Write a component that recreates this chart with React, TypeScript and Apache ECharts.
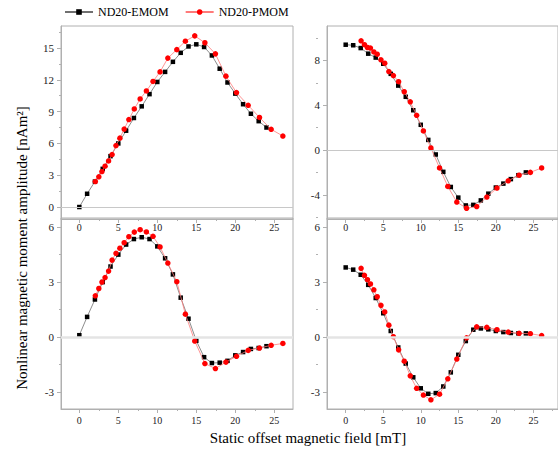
import React, { useEffect, useRef } from 'react';
import * as echarts from 'echarts';

// ---- data ----
const blackX = [0, 1, 2, 3, 4, 5, 6, 7, 8, 9, 10, 11, 12, 13, 14, 15, 16, 17, 18, 19, 20, 21, 22, 23, 24];
const redX = [2.05, 2.5, 2.9, 3.3, 3.75, 4.2, 4.7, 5.2, 5.75, 6.35, 7.05, 7.8, 8.6, 9.45, 10.35, 11.35, 12.5, 13.6, 14.8, 16.1, 17.45, 18.8, 20.15, 21.65, 23.1, 24.6, 26.1];

const tlEmom = [0, 1.25, 2.4, 3.6, 4.8, 6.0, 7.2, 8.4, 9.5, 10.65, 11.8, 12.75, 13.7, 14.55, 15.15, 15.35, 15.1, 14.3, 13.05, 11.75, 10.7, 9.7, 8.8, 8.1, 7.5];
const tlPmom = [2.4, 2.85, 3.35, 3.85, 4.35, 4.95, 5.8, 6.5, 7.35, 8.25, 9.25, 10.2, 10.95, 11.85, 12.75, 14.05, 14.85, 15.65, 16.15, 15.5, 14.45, 12.35, 10.8, 9.6, 8.45, 7.33, 6.7];

const trEmom = [9.4, 9.35, 9.1, 8.6, 8.25, 7.7, 6.8, 5.75, 4.75, 3.55, 2.25, 0.9, -0.4, -1.95, -3.3, -4.25, -4.95, -4.9, -4.5, -3.9, -3.35, -3.0, -2.6, -2.25, -2.0];
const trPmom = [9.75, 9.4, 9.15, 9.1, 8.75, 8.55, 8.05, 7.75, 7.0, 6.65, 6.1, 5.2, 4.3, 3.1, 1.7, 0.18, -1.6, -3.25, -4.65, -5.2, -5.05, -4.2, -3.4, -2.75, -2.25, -2.0, -1.6];

const blEmom = [0.1, 1.1, 2.05, 3.0, 3.85, 4.5, 5.05, 5.35, 5.45, 5.35, 4.95, 4.3, 3.42, 2.15, 1.0, -0.2, -1.1, -1.42, -1.4, -1.3, -1.0, -0.82, -0.65, -0.6, -0.5];
const blPmom = [2.25, 2.65, 3.0, 3.25, 3.6, 4.2, 4.57, 4.85, 5.15, 5.48, 5.73, 5.86, 5.74, 5.5, 4.92, 4.04, 3.02, 1.25, -0.22, -1.45, -1.72, -1.37, -1.05, -0.73, -0.6, -0.45, -0.35];

const brEmom = [3.8, 3.68, 3.4, 2.85, 2.13, 1.3, 0.33, -0.57, -1.45, -2.2, -2.8, -3.1, -3.06, -2.7, -1.93, -0.97, -0.22, 0.4, 0.47, 0.42, 0.33, 0.27, 0.22, 0.2, 0.2];
const brPmom = [3.75, 3.37, 3.13, 2.9, 2.58, 2.2, 1.73, 1.37, 0.65, 0.02, -0.7, -1.32, -2.12, -2.8, -3.17, -3.43, -3.12, -2.28, -1.2, -0.04, 0.56, 0.53, 0.4, 0.27, 0.2, 0.18, 0.08];

const xMajor = [0, 5, 10, 15, 20, 25];
const xMinor = [2.5, 7.5, 12.5, 17.5, 22.5, 27.5];
const tlYMajor = [0, 3, 6, 9, 12, 15];
const tlYMinor = [1.5, 4.5, 7.5, 10.5, 13.5, 16.5];
const trYMajor = [-4, 0, 4, 8];
const trYMinor = [-6, -2, 2, 6, 10];
const bYMajor = [-3, 0, 3, 6];
const bYMinor = [-1.5, 1.5, 4.5];

const seriesNames = ['ND20-EMOM', 'ND20-PMOM'];
const yTitle = 'Nonlinear magnetic moment amplitude [nAm²]';
const xTitle = 'Static offset magnetic field [mT]';

const FONT = 'Liberation Serif';
const AXIS = '#b0b0b0';

export default function App() {
  const ref = useRef<HTMLDivElement>(null);

  useEffect(() => {
    if (!ref.current) return;
    const chart = echarts.init(ref.current, undefined, { renderer: 'svg' });

    const panels = [
      { left: 61, top: 26, width: 232, height: 193, xMin: -2.35, xMax: 27.4, yMin: -1.13, yMax: 17.08, yMajor: tlYMajor, yMinor: tlYMinor, emom: tlEmom, pmom: tlPmom, xMargin: 3, zeroW: 1, zeroC: '#c8c8c8' },
      { left: 327, top: 26, width: 240, height: 193, xMin: -2.49, xMax: 28.28, yMin: -6.16, yMax: 11.07, yMajor: trYMajor, yMinor: trYMinor, emom: trEmom, pmom: trPmom, xMargin: 3, zeroW: 1, zeroC: '#c8c8c8' },
      { left: 61, top: 218, width: 232, height: 191, xMin: -2.35, xMax: 27.4, yMin: -3.93, yMax: 6.5, yMajor: bYMajor, yMinor: bYMinor, emom: blEmom, pmom: blPmom, xMargin: 6, zeroW: 2.5, zeroC: '#e4e4e4' },
      { left: 327, top: 218, width: 240, height: 191, xMin: -2.49, xMax: 28.28, yMin: -3.93, yMax: 6.5, yMajor: bYMajor, yMinor: bYMinor, emom: brEmom, pmom: brPmom, xMargin: 6, zeroW: 2.5, zeroC: '#e4e4e4' },
    ];

    const labelStyle = { fontFamily: FONT, fontSize: 10, color: '#222' };
    const grid: any[] = [];
    const xAxis: any[] = [];
    const yAxis: any[] = [];
    const series: any[] = [];

    panels.forEach((p, i) => {
      grid.push({ left: p.left, top: p.top, width: p.width, height: p.height, show: true, borderColor: AXIS, borderWidth: 1, containLabel: false });
      xAxis.push({
        type: 'value', gridIndex: i, min: p.xMin, max: p.xMax, position: 'bottom',
        axisLine: { show: true, onZero: false, lineStyle: { color: AXIS, width: 1 } },
        axisTick: { show: true, length: 4, customValues: xMajor, lineStyle: { color: AXIS } },
        axisLabel: { ...labelStyle, customValues: xMajor, margin: p.xMargin },
        splitLine: { show: false },
      });
      xAxis.push({
        type: 'value', gridIndex: i, min: p.xMin, max: p.xMax, position: 'top', offset: -p.height,
        axisLine: { show: false, onZero: false },
        axisTick: { show: true, inside: true, length: 2, customValues: xMinor, lineStyle: { color: AXIS } },
        axisLabel: { show: false },
        splitLine: { show: false },
      });
      yAxis.push({
        type: 'value', gridIndex: i, min: p.yMin, max: p.yMax, position: 'left',
        axisLine: { show: true, onZero: false, lineStyle: { color: AXIS, width: 1 } },
        axisTick: { show: true, length: 4, customValues: p.yMajor, lineStyle: { color: AXIS } },
        axisLabel: { ...labelStyle, fontSize: 11, customValues: p.yMajor, margin: 7 },
        splitLine: { show: false },
      });
      yAxis.push({
        type: 'value', gridIndex: i, min: p.yMin, max: p.yMax, position: 'right', offset: -p.width,
        axisLine: { show: false, onZero: false },
        axisTick: { show: true, inside: true, length: 2, customValues: p.yMinor, lineStyle: { color: AXIS } },
        axisLabel: { show: false },
        splitLine: { show: false },
      });
      series.push({
        type: 'line', name: seriesNames[0], xAxisIndex: 2 * i, yAxisIndex: 2 * i,
        data: blackX.map((x, k) => [x, p.emom[k]]),
        symbol: 'rect', symbolSize: 4.5,
        itemStyle: { color: '#000' },
        lineStyle: { color: '#707070', width: 0.8 },
        markLine: {
          silent: true, symbol: ['none', 'none'], label: { show: false },
          lineStyle: { color: p.zeroC, width: p.zeroW, type: 'solid' },
          data: [{ yAxis: 0 }],
        },
        z: 3,
      });
      series.push({
        type: 'line', name: seriesNames[1], xAxisIndex: 2 * i, yAxisIndex: 2 * i,
        data: redX.map((x, k) => [x, p.pmom[k]]),
        symbol: 'circle', symbolSize: 5.5,
        itemStyle: { color: '#ff0000' },
        lineStyle: { color: '#ff7a7a', width: 0.8 },
        z: 4,
      });
    });

    chart.setOption({
      animation: false,
      backgroundColor: '#ffffff',
      textStyle: { fontFamily: FONT },
      legend: {
        data: seriesNames, left: 59, top: 1, itemWidth: 28, itemHeight: 7, itemGap: 16,
        textStyle: { fontFamily: FONT, fontSize: 12, color: '#000' },
      },
      grid, xAxis, yAxis, series,
      graphic: [
        {
          type: 'text', x: 22, y: 248, rotation: Math.PI / 2,
          style: { text: yTitle, font: `15px "${FONT}"`, fill: '#000', textAlign: 'center', textVerticalAlign: 'middle', align: 'center', verticalAlign: 'middle' },
        },
        {
          type: 'text', x: 308, y: 438,
          style: { text: xTitle, font: `15px "${FONT}"`, fill: '#000', textAlign: 'center', textVerticalAlign: 'middle', align: 'center', verticalAlign: 'middle' },
        },
      ],
    });

    return () => chart.dispose();
  }, []);

  return <div ref={ref} style={{ position: 'absolute', left: 0, top: 0, width: 558, height: 452 }} />;
}
